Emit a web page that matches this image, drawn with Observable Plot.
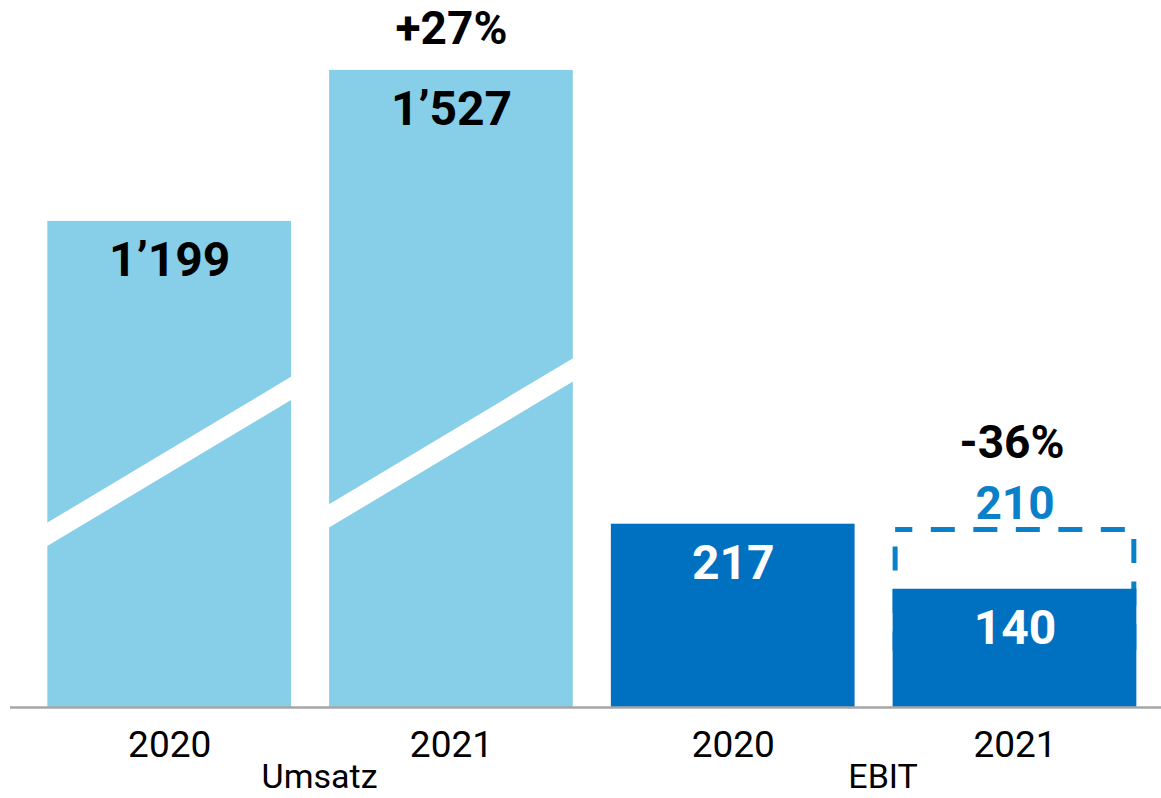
<!DOCTYPE html>
<html><head><meta charset="utf-8">
<script src="https://cdn.jsdelivr.net/npm/d3@7"></script>
<script src="https://cdn.jsdelivr.net/npm/@observablehq/plot@0.6"></script>
<style>body{margin:0;background:#fff;}</style>
</head><body><div id="chart"></div>
<script>
// ---- data ----
const groups = ["Umsatz", "Umsatz", "EBIT", "EBIT"];
const years = ["2020", "2021", "2020", "2021"];
const values = [1199, 1527, 217, 140];
const valueLabels = ["1’199", "1’527", "217", "140"];
const planValue = 210;            // EBIT 2021 plan (dashed outline)
const planLabel = "210";
const changeLabels = ["+27%", "-36%"];   // Umsatz 2021, EBIT 2021
const groupNames = ["Umsatz", "EBIT"];

// broken axis for Umsatz: drawn as value*ratio - cut (on the EBIT scale)
const umsatzRatio = 0.545;
const umsatzCut = 78;
// axis-break band on each Umsatz bar, in Umsatz values (left edge -> right edge)
const breakFrom = [520, 560];
const breakTo = [837, 877];

const lightBlue = "#87CEE8", darkBlue = "#0070C0", planBlue = "#0A80C8";
const barPad = 0.0675; // gap inside each x unit

const shown = (v, g) => g === "Umsatz" ? v * umsatzRatio - umsatzCut : v;

const bars = values.map((v, i) => ({
  i, group: groups[i], year: years[i], value: v, label: valueLabels[i],
  y: shown(v, groups[i]),
  x1: i + barPad, x2: i + 1 - barPad, xc: i + 0.5
}));

// break links, slightly extended beyond the bar edges
const ext = 0.035;
const breaks = breakFrom.map((f, k) => {
  const b = bars[k];
  const y0 = shown(f, "Umsatz"), y1 = shown(breakTo[k], "Umsatz");
  const w = b.x2 - b.x1, s = (y1 - y0) / w;
  return {x1: b.x1 - ext, x2: b.x2 + ext, y1: y0 - s * ext, y2: y1 + s * ext};
});

// dashed plan outline; its bottom edge is hidden inside the actual bar
const plan = [{x1: bars[3].x1, x2: bars[3].x2, xc: bars[3].xc, y: planValue, y0: values[3] / 2}];
const changeUmsatz = [{xc: bars[1].xc, y: bars[1].y, label: changeLabels[0]}];
const changeEbit = [{xc: bars[3].xc, y: planValue, label: changeLabels[1]}];
const groupLabels = groupNames.map((g, k) => ({xc: 2 * k + 1, label: g}));

const chart = Plot.plot({
  width: 1161,
  height: 798,
  marginLeft: 10,
  marginRight: 0,
  marginTop: 0,
  marginBottom: 91,
  x: {domain: [-0.065, 4.02], axis: null},
  y: {domain: [0, 837], axis: null},
  style: {fontFamily: "Roboto, sans-serif", background: "#fff"},
  marks: [
    Plot.rectY(plan, {x1: "x1", x2: "x2", y1: "y0", y2: "y", fill: "none",
      stroke: planBlue, strokeWidth: 5, strokeDasharray: "24,18.5", strokeDashoffset: 6.8,
      insetLeft: 2.5, insetRight: 2.5}),
    Plot.rectY(bars, {x1: "x1", x2: "x2", y1: 0, y2: "y",
      fill: d => d.group === "Umsatz" ? lightBlue : darkBlue}),
    Plot.link(breaks, {x1: "x1", y1: "y1", x2: "x2", y2: "y2", stroke: "#fff", strokeWidth: 20}),
    Plot.ruleY([0], {stroke: "#a6a6a6", strokeWidth: 2.5}),
    Plot.text(bars, {x: "xc", y: "y", text: "label", dy: 39, lineAnchor: "middle",
      fontSize: 48, fontWeight: "bold",
      fill: d => d.group === "Umsatz" ? "#000" : "#fff"}),
    Plot.text(plan, {x: "xc", y: "y", text: () => planLabel, dy: -26, lineAnchor: "middle",
      fontSize: 46, fontWeight: "bold", fill: planBlue}),
    Plot.text(changeUmsatz, {x: "xc", y: "y", text: "label", dy: -41, lineAnchor: "middle",
      fontSize: 46, fontWeight: "bold", fill: "#000"}),
    Plot.text(changeEbit, {x: "xc", y: "y", text: "label", dy: -87, dx: -3, lineAnchor: "middle",
      fontSize: 46, fontWeight: "bold", fill: "#000"}),
    Plot.text(bars, {x: "xc", y: 0, text: "year", dy: 38, lineAnchor: "middle",
      fontSize: 37, fill: "#000"}),
    Plot.text(groupLabels, {x: "xc", y: 0, text: "label", dy: 70, dx: 9, lineAnchor: "middle",
      fontSize: 34, fill: "#000"})
  ]
});
document.getElementById("chart").append(chart);
</script>
</body></html>
